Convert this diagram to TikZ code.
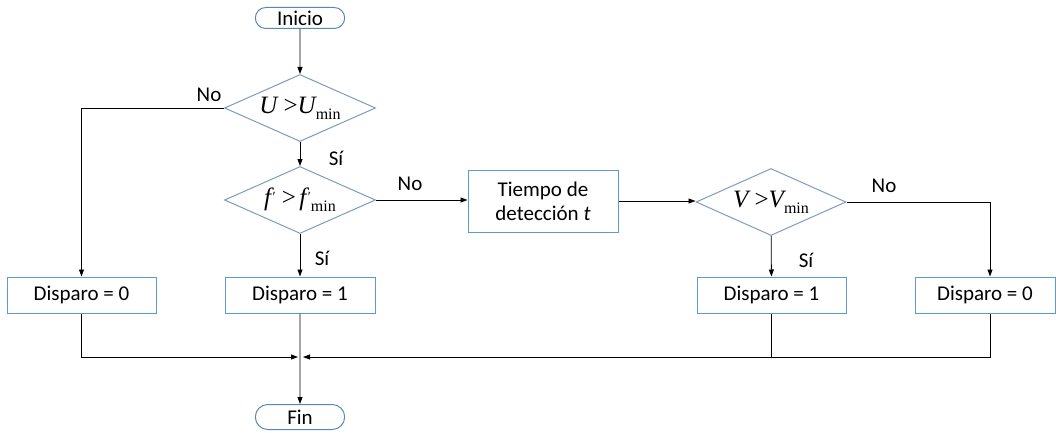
\documentclass[tikz,border=0pt]{standalone}
\usepackage{fontspec}
\setmainfont{Carlito}
\newfontfamily\tnr{Liberation Serif}
\usetikzlibrary{shapes.geometric,shapes.misc,arrows.meta}
\definecolor{boxblue}{HTML}{5B9BD5}
\definecolor{dmdblue}{HTML}{7C9CBF}
\definecolor{termblue}{HTML}{5A86B4}
\newcommand{\mvar}[1]{{\tnr\fontsize{25}{25}\selectfont\itshape #1}}
\newcommand{\msub}[1]{\raisebox{-6pt}{\tnr\fontsize{16}{16}\selectfont #1}}
\newcommand{\mgt}{{\tnr\fontsize{25}{25}\selectfont\ >}}
\newcommand{\mprime}{\kern1.5pt\raisebox{4pt}{\tnr\fontsize{14}{14}\selectfont\char"2032}}
\tikzset{
  every node/.style={font=\fontsize{21}{24}\selectfont},
  term/.style={rounded rectangle, draw=termblue, line width=1pt, minimum width=96pt, minimum height=21pt, inner ysep=0pt},
  procbox/.style={rectangle, draw=boxblue, line width=1pt, minimum width=150pt, minimum height=36pt, inner sep=0pt},
  decision/.style={diamond, draw=dmdblue, line width=1pt, aspect=2.25, inner sep=0pt, minimum width=151pt, minimum height=67pt},
  lbl/.style={inner sep=0pt},
  arr/.style={-{Triangle[length=7pt,width=5pt]}, line width=0.8pt},
  wire/.style={line width=0.8pt}
}
\begin{document}
\begin{tikzpicture}[x=1pt,y=-1pt]
  \useasboundingbox (0,0) rectangle (1056,433);

  % nodes
  \node[term] (ini) at (300,18) {Inicio};
  \node[decision] (d1) at (300,108) {\mvar{U}\mgt\mvar{U}\msub{min}};
  \node[decision] (d2) at (300,200) {\mvar{f}\mprime\mgt\,\mvar{f}\mprime\msub{min}};
  \node[procbox, minimum height=62pt, align=center] (tiempo) at (543,201) {Tiempo de\\detección \textit{t}};
  \node[decision, minimum width=150pt] (d3) at (771,202) {\mvar{V}\mgt\mvar{V}\msub{min}};
  \node[procbox, minimum width=149pt] (dl0) at (81.5,295) {Disparo = 0};
  \node[procbox] (dp1) at (300,295) {Disparo = 1};
  \node[procbox, minimum width=149pt] (dr1) at (771.5,295) {Disparo = 1};
  \node[procbox, minimum width=140pt] (dr0) at (985,295) {Disparo = 0};
  \node[term, minimum height=25pt] (fin) at (300,417) {Fin};
  \coordinate (m) at (300,357);
  \coordinate (rcol) at (990,295);

  % branch labels
  \node[lbl] at (209,95) {No};
  \node[lbl] at (336,158) {Sí};
  \node[lbl] at (410,184) {No};
  \node[lbl] at (322,258) {Sí};
  \node[lbl] at (806,260) {Sí};
  \node[lbl] at (884,186) {No};

  % connectors
  \draw[arr] (ini) -- (d1);
  \draw[arr] (d1) -- (d2);
  \draw[arr] (d1.west) -| (dl0.north);
  \draw[arr] (d2) -- (dp1);
  \draw[arr] (d2.east) -- (d2.east -| tiempo.west);
  \draw[arr] (tiempo.east) -- (tiempo.east -| d3.west);
  \draw[arr] (d3) -- (dr1);
  \draw[arr] (d3.east) -| (rcol |- dr0.north);
  \draw[arr, shorten >=2pt] (dl0.south) |- (m);
  \draw[arr, shorten >=3pt] (rcol |- dr0.south) |- (m);
  \draw[wire] (dr1.south) -- (dr1.south |- m);
  \draw[arr] (dp1) -- (fin);
\end{tikzpicture}
\end{document}
